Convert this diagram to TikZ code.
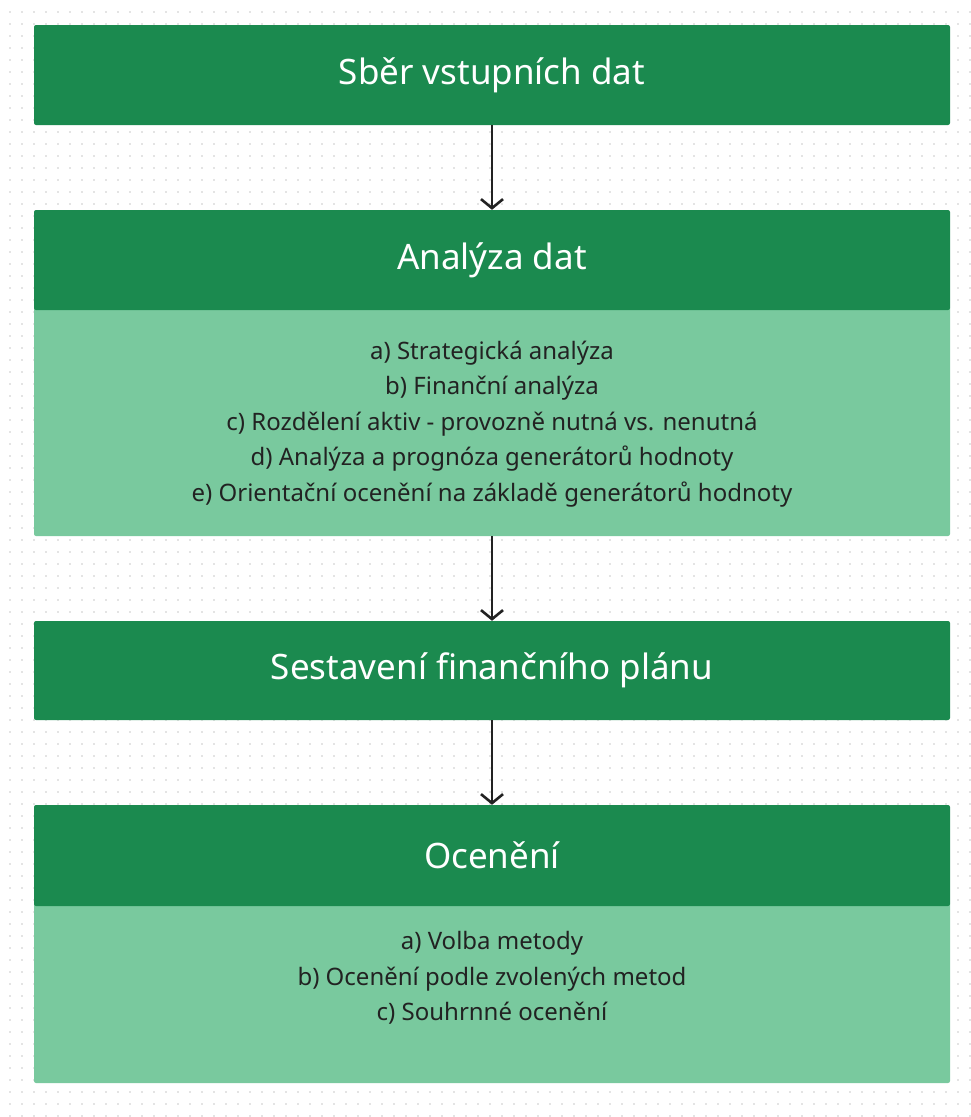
\documentclass[tikz,border=0pt]{standalone}
\usepackage{fontspec}
\setmainfont{Noto Sans}
\usetikzlibrary{arrows.meta}
\definecolor{darkgreen}{HTML}{1B8A4F}
\definecolor{lightgreen}{HTML}{79C99E}
\definecolor{inkdark}{HTML}{222222}
\definecolor{dotgray}{HTML}{E4E4E4}
\tikzset{
  head/.style={fill=darkgreen, draw=none, rounded corners=2pt, minimum width=916pt,
    minimum height=100pt, inner sep=0pt, text=white, font=\fontsize{35}{40}\selectfont},
  body/.style={fill=lightgreen, draw=none, rounded corners=2pt, minimum width=916pt,
    inner sep=0pt},
  items/.style={align=center, text=inkdark, font=\fontsize{24}{35.5}\selectfont, inner sep=0pt},
  flow/.style={draw=inkdark, line width=2.6pt, -{Straight Barb[length=9pt,width=22pt,line width=2.6pt]}},
  dotrow/.style={draw=dotgray, line width=2.2pt, dash pattern=on 2.2pt off 9.8pt},
}
\begin{document}
\begin{tikzpicture}[x=1pt,y=-1pt]
\useasboundingbox (0,0) rectangle (971,1117);
% dotted canvas: each row is a dashed line of short square dashes
\foreach \j in {0,...,92} {
  \draw[dotrow] (8.9,12+12*\j) -- (971,12+12*\j);
}
% stage 1
\node[head] (sber) at (492,75) {Sběr vstupních dat};
% stage 2
\node[body, minimum height=230pt] (analyzabody) at (492,421) {};
\node[head] (analyza) at (492,260) {Analýza dat};
\node[items] (analyzaitems) at (492,424) {a) Strategická analýza\\b) Finanční analýza\\c) Rozdělení aktiv - provozně nutná vs. nenutná\\d) Analýza a prognóza generátorů hodnoty\\e) Orientační ocenění na základě generátorů hodnoty};
% stage 3
\node[head, minimum height=99pt] (plan) at (492,670.5) {Sestavení finančního plánu};
% stage 4
\node[body, minimum height=181pt] (oceneniblock) at (492,992.5) {};
\node[head, minimum height=101pt] (oceneni) at (492,855.5) {Ocenění};
\node[items] (oceneniitems) at (492,978) {a) Volba metody\\b) Ocenění podle zvolených metod\\c) Souhrnné ocenění};
% connectors
\draw[flow] (sber.south) -- (analyza.north);
\draw[flow] (analyzabody.south) -- (plan.north);
\draw[flow] (plan.south) -- (oceneni.north);
\end{tikzpicture}
\end{document}
